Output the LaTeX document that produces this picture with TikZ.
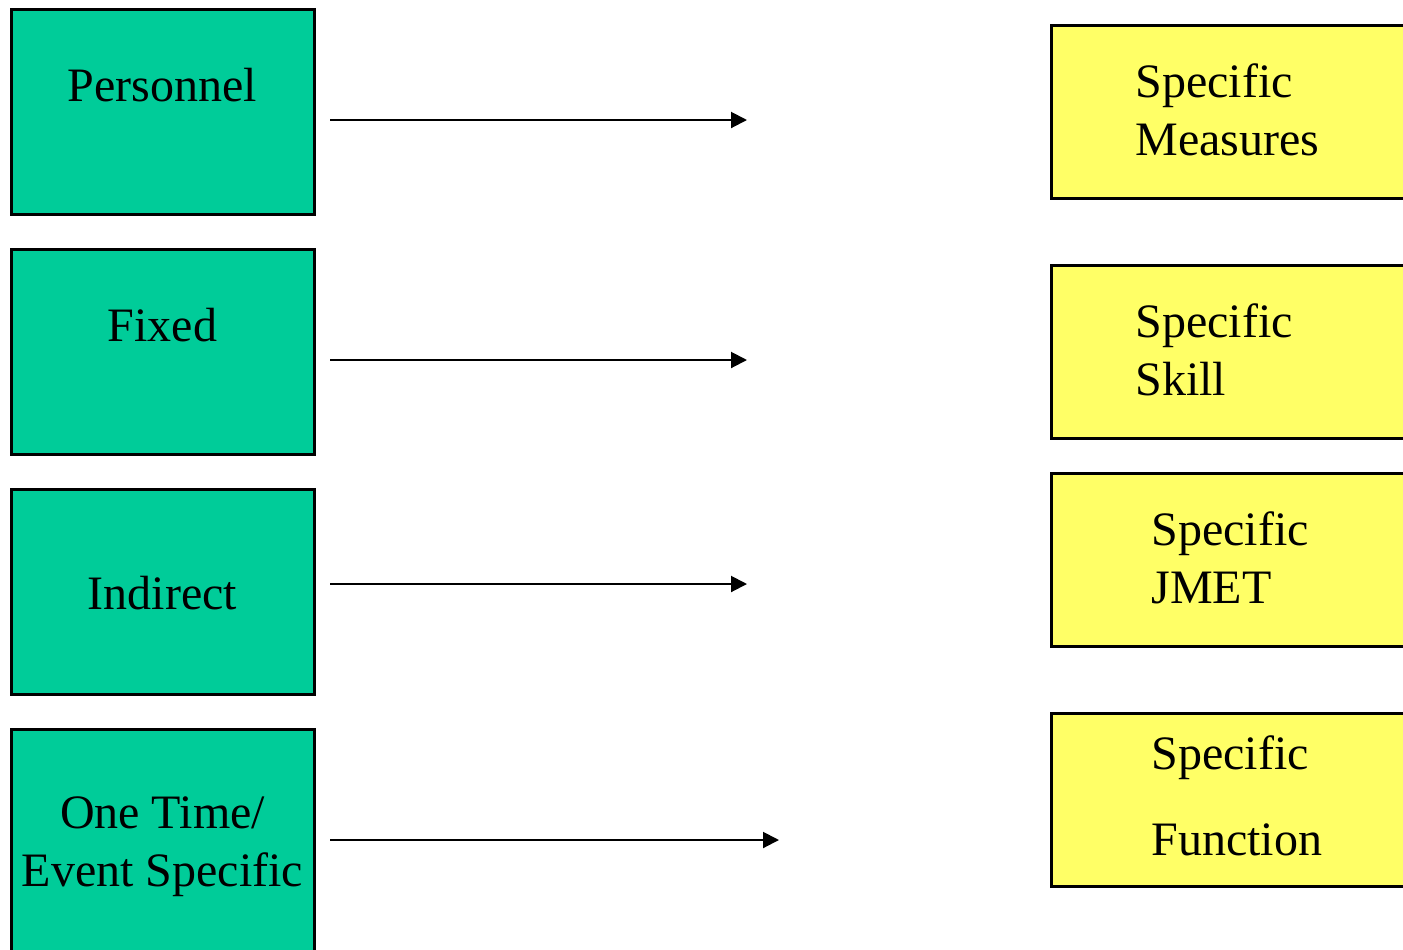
\documentclass[tikz,border=0pt]{standalone}
\usepackage{fontspec}
\setmainfont{Liberation Serif}
\usetikzlibrary{arrows.meta}
\definecolor{boxgreen}{HTML}{00CC99}
\definecolor{boxyellow}{HTML}{FFFF66}
\begin{document}
\begin{tikzpicture}[x=0.5pt,y=-0.5pt,
        gbox/.style={draw,line width=1.5pt,fill=boxgreen,minimum width=151.5pt,minimum height=102.5pt},%left column
        ybox/.style={draw,line width=1.5pt,fill=boxyellow,minimum width=184.25pt,minimum height=86.5pt},%right column
        txt/.style={inner sep=0pt,font=\fontsize{24pt}{29pt}\selectfont},
        link/.style={line width=1pt,-{Triangle[length=8pt,width=8pt]}}
        ]
\useasboundingbox (0,0) rectangle (1403,949);
\clip (0,0) rectangle (1403,949);
% left boxes
\node[gbox] (pers) at (162.5,112) {};
\node[gbox] (fixd) at (162.5,352) {};
\node[gbox] (indr) at (162.5,592) {};
\node[gbox,minimum height=115.25pt] (once) at (162.5,844.75) {};
\node[txt,anchor=base] (persT) at (162.5,101) {Personnel};
\node[txt,anchor=base] (fixdT) at (162.5,341) {Fixed};
\node[txt,anchor=base] (indrT) at (162.5,609) {Indirect};
\node[txt,anchor=base,align=center] (onceT) at (162.5,886) {One Time/\\Event Specific};%base = last line
% right boxes
\node[ybox] (meas) at (1235.75,112) {};
\node[ybox] (skil) at (1235.75,352) {};
\node[ybox] (jmet) at (1235.75,560) {};
\node[ybox] (func) at (1235.75,800) {};
\node[txt,anchor=base west,align=left] (measT) at (1135,155) {Specific\\Measures};
\node[txt,anchor=base west,align=left] (skilT) at (1135,395) {Specific\\Skill};
\node[txt,anchor=base west,align=left] (jmetT) at (1151,603) {Specific\\JMET};
\node[txt,anchor=base west,align=left] (funcT) at (1151,855) {Specific\\[14pt]Function};
% arrows
\coordinate (a1) at (330,120); \coordinate (b1) at (747,120);
\coordinate (a2) at (330,360); \coordinate (b2) at (747,360);
\coordinate (a3) at (330,584); \coordinate (b3) at (747,584);
\coordinate (a4) at (330,840); \coordinate (b4) at (779,840);
\draw[link] (a1) -- (b1);
\draw[link] (a2) -- (b2);
\draw[link] (a3) -- (b3);
\draw[link] (a4) -- (b4);
\end{tikzpicture}
\end{document}
